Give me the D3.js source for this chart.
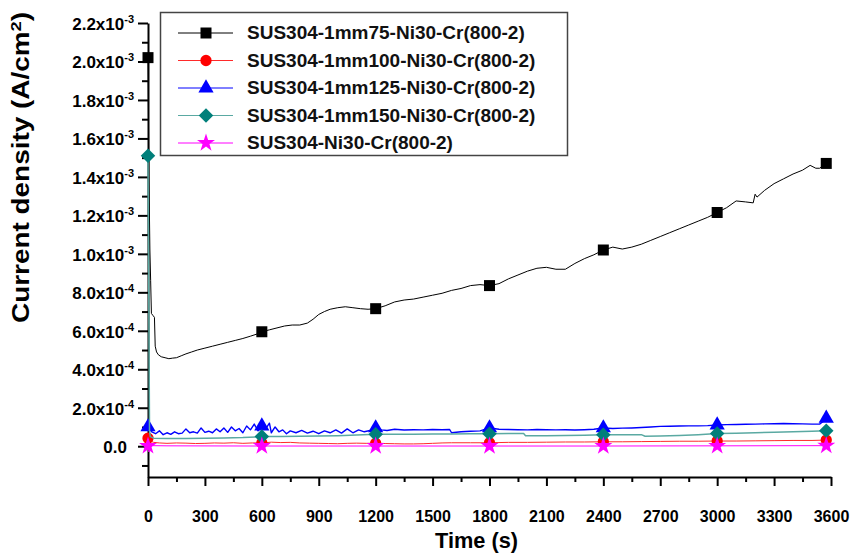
<!DOCTYPE html>
<html>
<head>
<meta charset="utf-8">
<script src="https://cdn.jsdelivr.net/npm/d3@7"></script>
<style>
  body { margin: 0; background: #fff; }
  svg { display: block; font-family: "Liberation Sans", Arial, sans-serif; }
</style>
</head>
<body>
<div id="chart"></div>
<script>
// current density in units of 1e-4 A/cm2, time in s
const sus75 = [[0,20.2],[5,14],[10,10.2],[14,8.6],[18,6.9],[26,6.8],[34,6.7],[38,5.2],[45,4.9],[55,4.75],[70,4.65],[90,4.6],[110,4.55],[130,4.58],[150,4.6],[175,4.7],[200,4.8],[230,4.9],[260,5.0],[300,5.1],[340,5.2],[380,5.3],[420,5.4],[460,5.5],[500,5.6],[540,5.72],[580,5.85],[600,5.95],[640,6.05],[680,6.15],[720,6.25],[760,6.3],[800,6.3],[840,6.4],[870,6.6],[900,6.85],[930,7.0],[960,7.12],[1000,7.2],[1040,7.25],[1080,7.2],[1120,7.15],[1160,7.12],[1200,7.15],[1250,7.3],[1300,7.5],[1350,7.6],[1400,7.65],[1450,7.75],[1500,7.85],[1550,7.95],[1600,8.1],[1650,8.2],[1700,8.35],[1750,8.4],[1800,8.35],[1850,8.45],[1900,8.7],[1950,8.9],[2000,9.1],[2050,9.25],[2100,9.3],[2150,9.2],[2200,9.2],[2250,9.5],[2300,9.75],[2350,9.95],[2400,10.2],[2450,10.35],[2500,10.25],[2550,10.35],[2600,10.5],[2650,10.7],[2700,10.9],[2750,11.1],[2800,11.3],[2850,11.5],[2900,11.7],[2950,11.9],[3000,12.15],[3050,12.4],[3100,12.75],[3150,12.7],[3190,12.65],[3200,13.1],[3210,12.95],[3250,13.3],[3300,13.65],[3350,13.9],[3400,14.15],[3450,14.35],[3490,14.6],[3520,14.45],[3540,14.45],[3575,14.7]];

const sus100 = [[0,0.42],[4,0.35],[10,0.28],[30,0.2],[60,0.17],[100,0.15],[150,0.17],[200,0.16],[250,0.14],[300,0.15],[350,0.17],[400,0.16],[450,0.18],[500,0.15],[550,0.17],[600,0.17],[650,0.21],[700,0.19],[750,0.2],[800,0.17],[850,0.16],[900,0.15],[950,0.14],[1000,0.13],[1050,0.15],[1100,0.16],[1150,0.15],[1200,0.16],[1250,0.14],[1300,0.13],[1350,0.12],[1400,0.12],[1450,0.13],[1500,0.15],[1550,0.17],[1600,0.18],[1700,0.18],[1800,0.18],[1900,0.2],[2000,0.2],[2100,0.21],[2200,0.22],[2300,0.22],[2400,0.23],[2500,0.23],[2600,0.24],[2700,0.25],[2800,0.26],[2900,0.26],[3000,0.27],[3100,0.27],[3200,0.28],[3300,0.29],[3400,0.3],[3500,0.3],[3575,0.32]];

const sus125 = [[0,1.0],[10,0.9],[20,0.75],[40,0.65],[60,0.8],[80,0.6],[100,0.7],[120,0.62],[140,0.75],[160,0.65],[180,0.68],[200,0.9],[220,0.7],[240,0.75],[260,0.68],[280,0.95],[300,0.72],[320,0.78],[340,0.7],[360,0.9],[380,0.75],[400,0.95],[420,0.72],[440,1.0],[460,0.8],[480,0.92],[500,0.7],[520,1.05],[540,0.85],[560,1.15],[580,0.8],[600,1.05],[620,0.9],[640,1.2],[650,0.7],[670,1.0],[690,0.75],[710,0.85],[730,0.65],[750,0.8],[780,0.7],[810,0.82],[840,0.68],[870,0.78],[900,0.65],[930,0.8],[960,0.7],[990,0.85],[1020,0.68],[1050,0.9],[1080,0.7],[1110,0.85],[1140,0.75],[1170,0.82],[1200,0.95],[1230,0.85],[1260,0.82],[1300,0.88],[1350,0.84],[1400,0.86],[1450,0.85],[1500,0.87],[1550,0.86],[1590,0.87],[1600,0.7],[1650,0.75],[1700,0.78],[1750,0.8],[1800,0.95],[1850,0.88],[1900,0.87],[1950,0.86],[2000,0.85],[2050,0.87],[2100,0.86],[2150,0.85],[2200,0.86],[2250,0.84],[2300,0.86],[2350,0.88],[2400,0.95],[2450,0.92],[2500,0.94],[2550,0.95],[2600,0.97],[2650,1.0],[2700,1.03],[2750,1.04],[2800,1.05],[2850,1.06],[2900,1.06],[2950,1.07],[3000,1.1],[3050,1.12],[3100,1.13],[3150,1.14],[3200,1.15],[3250,1.16],[3300,1.17],[3350,1.18],[3400,1.17],[3450,1.16],[3500,1.15],[3540,1.15],[3560,1.3],[3575,1.45]];

const sus150 = [[0,15.1],[4,8],[8,0.8],[12,0.5],[30,0.42],[100,0.4],[200,0.4],[300,0.41],[400,0.43],[500,0.45],[600,0.5],[700,0.5],[800,0.52],[900,0.53],[1000,0.55],[1100,0.58],[1200,0.62],[1300,0.62],[1400,0.62],[1500,0.63],[1600,0.64],[1700,0.65],[1800,0.65],[1900,0.66],[1980,0.66],[1990,0.55],[2100,0.55],[2200,0.56],[2300,0.57],[2400,0.6],[2500,0.6],[2600,0.6],[2620,0.52],[2700,0.53],[2800,0.56],[2900,0.6],[3000,0.66],[3100,0.67],[3200,0.7],[3300,0.72],[3400,0.75],[3500,0.78],[3575,0.8]];

const sus0 = [[0,0.02],[2,0.35],[5,-0.3],[8,0.15],[12,-0.1],[20,0.03],[100,0.02],[600,0.01],[1200,0.01],[1800,0.01],[2400,0.01],[3000,0.02],[3575,0.03]];

const seriesNames = ["SUS304-1mm75-Ni30-Cr(800-2)", "SUS304-1mm100-Ni30-Cr(800-2)", "SUS304-1mm125-Ni30-Cr(800-2)", "SUS304-1mm150-Ni30-Cr(800-2)", "SUS304-Ni30-Cr(800-2)"];
const markerTimes = [0, 600, 1200, 1800, 2400, 3000, 3575];

const xTicks = d3.range(0, 3601, 300);
const xMinor = d3.range(150, 3600, 300);
const yTicks = [0, 2, 4, 6, 8, 10, 12, 14, 16, 18, 20, 22];
const yMinor = [-1, 1, 3, 5, 7, 9, 11, 13, 15, 17, 19, 21];
const yLabelBase = ["0.0", "2.0x10", "4.0x10", "6.0x10", "8.0x10", "1.0x10", "1.2x10", "1.4x10", "1.6x10", "1.8x10", "2.0x10", "2.2x10"];
const yLabelExp = ["", "-4", "-4", "-4", "-4", "-3", "-3", "-3", "-3", "-3", "-3", "-3"];

const series = [
  { data: sus75,  line: "#000000", fill: "#000000", shape: "square",   lw: 1 },
  { data: sus100, line: "#ff2a2a", fill: "#ff0000", shape: "circle",   lw: 1 },
  { data: sus125, line: "#0000ff", fill: "#0000ff", shape: "triangle", lw: 1.4 },
  { data: sus150, line: "#5aa9a2", fill: "#007f7a", shape: "diamond",  lw: 1.5 },
  { data: sus0,   line: "#ff00ff", fill: "#ff00ff", shape: "star",     lw: 1 }
];

const svg = d3.select("#chart").append("svg")
  .attr("width", 862)
  .attr("height", 553);

const x = d3.scaleLinear().domain([0, 3600]).range([148, 831]);
const y = d3.scaleLinear().domain([-1.6, 22]).range([477, 23]);

function symbolPath(shape) {
  if (shape == "square") return d3.symbol(d3.symbolSquare, 121)();
  if (shape == "circle") return d3.symbol(d3.symbolCircle, 100)();
  if (shape == "triangle") return d3.symbol(d3.symbolTriangle, 100)();
  if (shape == "diamond") return d3.symbol(d3.symbolSquare, 105)();
  return d3.symbol(d3.symbolStar, 100)();
}

// x axis
const xAxisG = svg.append("g").attr("transform", "translate(0,477)");
xAxisG.call(d3.axisBottom(x).tickValues(xTicks).tickSize(9).tickSizeOuter(0).tickPadding(25).tickFormat(d => d));
xAxisG.append("g").call(d3.axisBottom(x).tickValues(xMinor).tickSize(5).tickFormat(""))
  .select(".domain").remove();
xAxisG.selectAll("path, line").attr("stroke", "#000").attr("stroke-width", 2);
xAxisG.selectAll("text")
  .attr("fill", "#000")
  .style("font-size", "16px")
  .style("font-weight", "bold")
  .style("font-family", "'Liberation Sans', Arial, sans-serif");

// y axis
const yAxisG = svg.append("g").attr("transform", "translate(148,0)");
yAxisG.call(d3.axisLeft(y).tickValues(yTicks).tickSize(10).tickSizeOuter(0).tickFormat(""));
yAxisG.append("g").call(d3.axisLeft(y).tickValues(yMinor).tickSize(6).tickFormat(""))
  .select(".domain").remove();
yAxisG.selectAll("path, line").attr("stroke", "#000").attr("stroke-width", 2);

const yLab = svg.append("g").selectAll("text")
  .data(yTicks)
  .enter()
  .append("text")
  .attr("x", (d, i) => yLabelExp[i] ? 134 : 127)
  .attr("y", d => y(d) + 3)
  .attr("text-anchor", "end")
  .attr("dominant-baseline", "middle")
  .style("font-size", "17px")
  .style("font-weight", "bold");
yLab.append("tspan").text((d, i) => yLabelBase[i]);
yLab.append("tspan")
  .attr("dy", -6)
  .style("font-size", "11px")
  .text((d, i) => yLabelExp[i]);

// lines and markers
const line = d3.line().x(d => x(d[0])).y(d => y(d[1]));

series.forEach(s => {
  svg.append("path")
    .datum(s.data)
    .attr("d", line)
    .attr("fill", "none")
    .attr("stroke", s.line)
    .attr("stroke-width", s.lw)
    .attr("stroke-linejoin", "round");

  svg.append("g").selectAll("path")
    .data(s.data.filter(d => markerTimes.includes(d[0])))
    .enter()
    .append("path")
    .attr("d", symbolPath(s.shape))
    .attr("transform", d => `translate(${x(d[0])},${y(d[1])})` + (s.shape == "diamond" ? " rotate(45)" : ""))
    .attr("fill", s.fill);
});

// axis titles
const yTitle = svg.append("text")
  .attr("transform", "translate(29,167.5) rotate(-90)")
  .attr("text-anchor", "middle")
  .attr("textLength", 311)
  .attr("lengthAdjust", "spacingAndGlyphs")
  .style("font-size", "23px")
  .style("font-weight", "bold");
yTitle.append("tspan").text("Current density (A/cm");
yTitle.append("tspan").attr("dy", -8).style("font-size", "15px").text("2");
yTitle.append("tspan").attr("dy", 8).text(")");

svg.append("text")
  .attr("x", 476.5)
  .attr("y", 548)
  .attr("text-anchor", "middle")
  .attr("textLength", 83)
  .attr("lengthAdjust", "spacingAndGlyphs")
  .style("font-size", "22px")
  .style("font-weight", "bold")
  .text("Time (s)");

// legend
const legend = svg.append("g");
legend.append("rect")
  .attr("x", 160.5)
  .attr("y", 12.5)
  .attr("width", 407)
  .attr("height", 143)
  .attr("fill", "#fff")
  .attr("stroke", "#444")
  .attr("stroke-width", 1.5);

const rows = legend.selectAll(".row")
  .data(series)
  .enter()
  .append("g")
  .attr("transform", (d, i) => `translate(0,${33 + i * 27.5})`);
rows.append("line")
  .attr("x1", 178).attr("x2", 233)
  .attr("stroke", d => d.line)
  .attr("stroke-width", 1);
rows.append("path")
  .attr("d", d => symbolPath(d.shape))
  .attr("transform", d => "translate(206,0)" + (d.shape == "diamond" ? " rotate(45)" : ""))
  .attr("fill", d => d.fill);
rows.append("text")
  .attr("x", 247)
  .attr("y", 1)
  .attr("dominant-baseline", "middle")
  .style("font-size", "19px")
  .style("font-weight", "bold")
  .attr("fill", "#111")
  .text((d, i) => seriesNames[i]);
</script>
</body>
</html>
